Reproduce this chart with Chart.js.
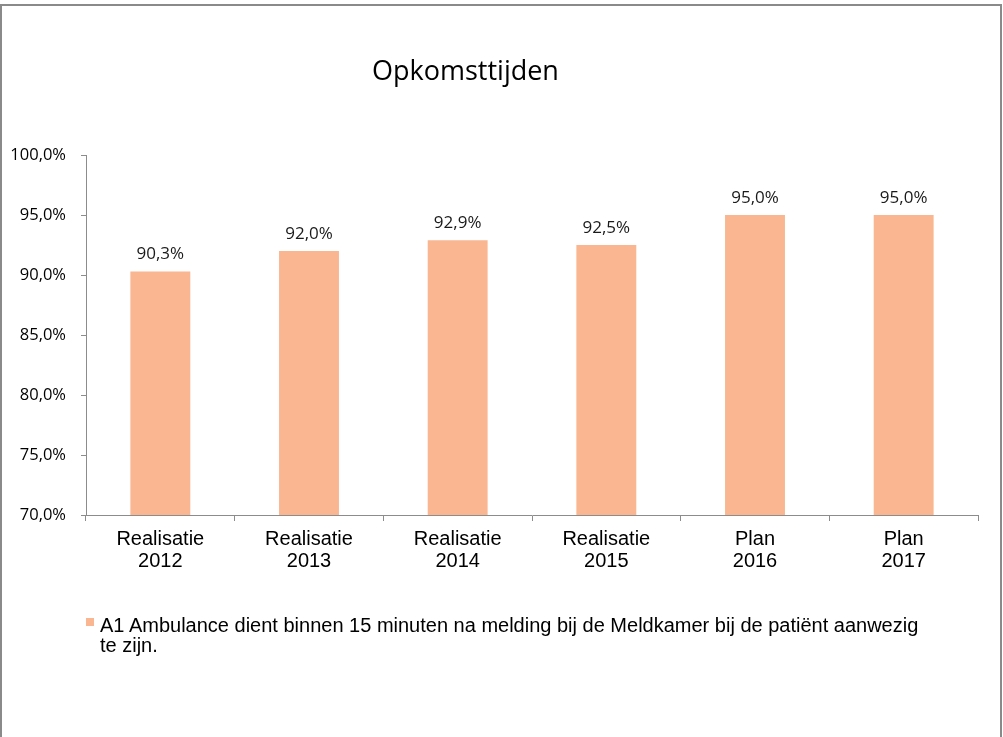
<!DOCTYPE html>
<html>
<head>
<meta charset="utf-8">
<script src="https://cdn.jsdelivr.net/npm/chart.js@4.4.1/dist/chart.umd.min.js"></script>
<style>
  html, body { margin:0; padding:0; background:#fff; }
  body { width:1003px; height:737px; position:relative; overflow:hidden; }
  #frame { position:absolute; left:0px; top:4px; width:1002px; height:760px; box-sizing:border-box; border:2px solid #8a8a8a; }
  #c { position:absolute; left:0; top:0; }
  #title { position:absolute; left:372px; top:57px; font-family:"Open Sans", sans-serif; font-size:27px; line-height:26px; color:#000; white-space:nowrap; }
  #legend { position:absolute; left:86px; top:615px; width:850px; font-family:"Liberation Sans", Arial, sans-serif; font-size:20px; line-height:20px; color:#000; }
  #legend .box { position:absolute; left:0; top:3px; width:8px; height:8px; }
  #legend .txt { margin-left:14px; }
</style>
</head>
<body>
<div id="frame"></div>
<canvas id="c" width="1003" height="737"></canvas>
<div id="title"></div>
<div id="legend"><span class="box"></span><div class="txt"></div></div>
<script>
const chartTitle = "Opkomsttijden";
const categories = [["Realisatie","2012"],["Realisatie","2013"],["Realisatie","2014"],["Realisatie","2015"],["Plan","2016"],["Plan","2017"]];
const seriesName = "A1 Ambulance dient binnen 15 minuten na melding bij de Meldkamer bij de patiënt aanwezig te zijn.";
const values = [90.3, 92.0, 92.9, 92.5, 95.0, 95.0];
const yMin = 70, yMax = 100, yStep = 5;
const barColor = "#F9B690";
const axisColor = "#8c8c8c";

const fmt = v => v.toFixed(1).replace('.', ',') + '%';

document.getElementById('title').textContent = chartTitle;
document.querySelector('#legend .txt').textContent = seriesName;
document.querySelector('#legend .box').style.background = barColor;

const dataLabels = {
  id: 'dataLabels',
  afterDatasetsDraw(chart) {
    const ctx = chart.ctx;
    const meta = chart.getDatasetMeta(0);
    ctx.save();
    ctx.font = '17px "Open Sans"';
    ctx.fillStyle = '#1a1a1a';
    ctx.textAlign = 'center';
    ctx.textBaseline = 'alphabetic';
    meta.data.forEach((bar, i) => {
      ctx.fillText(fmt(chart.data.datasets[0].data[i]), bar.x, bar.y - 12);
    });
    ctx.restore();
  }
};

new Chart(document.getElementById('c'), {
  type: 'bar',
  data: {
    labels: categories,
    datasets: [{
      label: seriesName,
      data: values,
      backgroundColor: barColor,
      borderWidth: 0,
      categoryPercentage: 1,
      barPercentage: 0.403
    }]
  },
  options: {
    responsive: false,
    animation: false,
    devicePixelRatio: 1,
    layout: { padding: { left: 0, top: 155, right: 25, bottom: 162 } },
    plugins: { legend: { display: false }, title: { display: false }, tooltip: { enabled: false } },
    scales: {
      x: {
        offset: true,
        grid: { display: true, drawOnChartArea: false, drawTicks: true, tickLength: 6, color: axisColor, offset: true },
        border: { display: true, color: axisColor, width: 1 },
        ticks: { color: '#000', font: { family: '"Liberation Sans", Arial, sans-serif', size: 20, lineHeight: 1.1 }, padding: 7, maxRotation: 0, autoSkip: false },
        afterFit(scale) { scale.height = 60; }
      },
      y: {
        min: yMin, max: yMax,
        grid: { display: true, drawOnChartArea: false, drawTicks: true, tickLength: 5, color: axisColor },
        border: { display: true, color: axisColor, width: 1 },
        ticks: { stepSize: yStep, color: '#000', font: { family: '"Open Sans", sans-serif', size: 16.5 }, padding: 15, callback: v => fmt(v) },
        afterFit(scale) { scale.width = 86; }
      }
    }
  },
  plugins: [dataLabels]
});
</script>
</body>
</html>
